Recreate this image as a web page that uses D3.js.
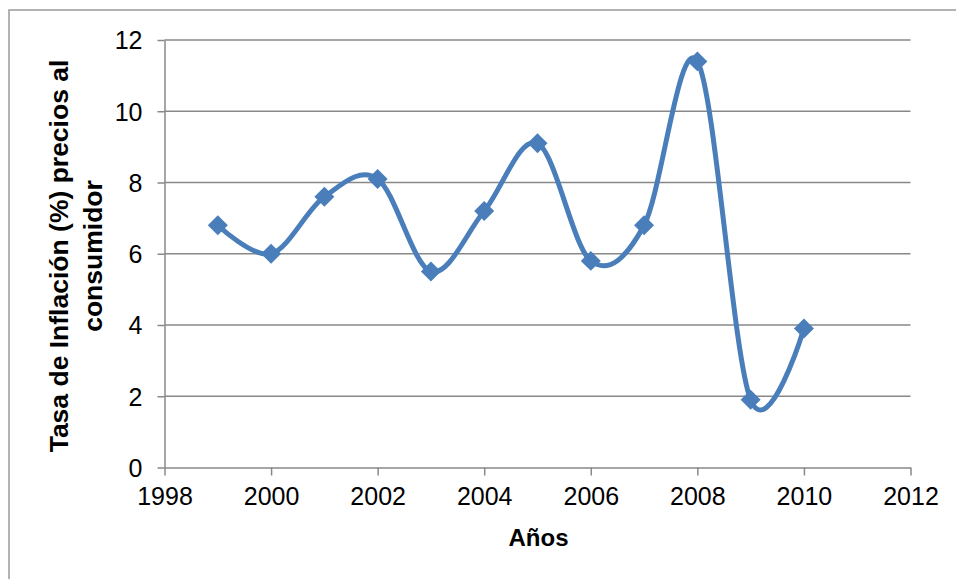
<!DOCTYPE html>
<html>
<head>
<meta charset="utf-8">
<script src="https://cdn.jsdelivr.net/npm/d3@7"></script>
<style>
  html, body { margin: 0; padding: 0; background: #fff; }
  svg text { font-family: "Liberation Sans", Arial, sans-serif; fill: #000; }
</style>
</head>
<body>
<svg id="chart" width="956" height="579"></svg>
<script>
// Consumer price inflation rate by year
const years = [1999, 2000, 2001, 2002, 2003, 2004, 2005, 2006, 2007, 2008, 2009, 2010];
const inflation = [6.8, 6.0, 7.6, 8.1, 5.5, 7.2, 9.1, 5.8, 6.8, 11.4, 1.9, 3.9];
const xTicks = [1998, 2000, 2002, 2004, 2006, 2008, 2010, 2012];
const yTicks = [0, 2, 4, 6, 8, 10, 12];
const xTitle = "Años";
const yTitleLines = ["Tasa de Inflación (%) precios al", "consumidor"];

const svg = d3.select("#chart");
const W = 956, H = 579;
const plot = { left: 164.5, right: 910.5, top: 40, bottom: 467.5 };
const gridColor = "#888888";
const lineColor = "#4a7ebb";

// Chart frame
svg.append("rect")
  .attr("x", 9).attr("y", 10)
  .attr("width", W + 20).attr("height", H + 20)
  .attr("fill", "none").attr("stroke", "#9a9a9a").attr("stroke-width", 1.5);

const x = d3.scaleLinear().domain([1998, 2012]).range([plot.left, plot.right]);
const y = d3.scaleLinear().domain([0, 12]).range([plot.bottom, plot.top]);

// Horizontal gridlines
svg.append("g")
  .selectAll("line")
  .data(yTicks.filter(d => d !== 0))
  .join("line")
  .attr("x1", plot.left).attr("x2", plot.right)
  .attr("y1", d => y(d)).attr("y2", d => y(d))
  .attr("stroke", gridColor).attr("stroke-width", 1.5);

// Y axis
const yAxis = svg.append("g")
  .attr("transform", `translate(${plot.left},0)`)
  .call(d3.axisLeft(y).tickValues(yTicks).tickSize(7).tickPadding(15).tickSizeOuter(0));
yAxis.select(".domain").attr("stroke", gridColor).attr("stroke-width", 1.5);
yAxis.selectAll(".tick line").attr("stroke", gridColor).attr("stroke-width", 1.5);
yAxis.selectAll(".tick text")
  .attr("font-size", 25).attr("font-family", "Liberation Sans, Arial, sans-serif")
  .attr("fill", "#000").attr("dy", "0.35em");

// X axis
const xAxis = svg.append("g")
  .attr("transform", `translate(0,${plot.bottom})`)
  .call(d3.axisBottom(x).tickValues(xTicks).tickFormat(d3.format("d")).tickSize(8).tickPadding(12).tickSizeOuter(0));
xAxis.select(".domain").attr("stroke", gridColor).attr("stroke-width", 1.5);
xAxis.selectAll(".tick line").attr("stroke", gridColor).attr("stroke-width", 1.5);
xAxis.selectAll(".tick text")
  .attr("font-size", 25).attr("font-family", "Liberation Sans, Arial, sans-serif")
  .attr("fill", "#000").attr("dy", "0.71em");

// Smoothed inflation line
const pts = years.map((yr, i) => [yr, inflation[i]]);
const line = d3.line()
  .x(d => x(d[0])).y(d => y(d[1]))
  .curve(d3.curveCatmullRom.alpha(0));
svg.append("path")
  .datum(pts)
  .attr("d", line)
  .attr("fill", "none")
  .attr("stroke", lineColor)
  .attr("stroke-width", 5)
  .attr("stroke-linejoin", "round")
  .attr("stroke-linecap", "round");

// Diamond markers
svg.append("g")
  .selectAll("path")
  .data(pts)
  .join("path")
  .attr("d", d3.symbol(d3.symbolSquare, 200)())
  .attr("transform", d => `translate(${x(d[0])},${y(d[1])}) rotate(45)`)
  .attr("fill", lineColor);

// Axis titles
svg.append("text")
  .attr("x", (plot.left + plot.right) / 2 + 1)
  .attr("y", 546)
  .attr("text-anchor", "middle")
  .attr("font-size", 24).attr("font-weight", "bold")
  .text(xTitle);

const yt = svg.append("text")
  .attr("transform", "translate(0,256) rotate(-90)")
  .attr("text-anchor", "middle")
  .attr("font-size", 26.5).attr("font-weight", "bold");
yt.selectAll("tspan")
  .data(yTitleLines)
  .join("tspan")
  .attr("x", 0)
  .attr("y", (d, i) => i === 0 ? 68 : 102)
  .text(d => d);
</script>
</body>
</html>
